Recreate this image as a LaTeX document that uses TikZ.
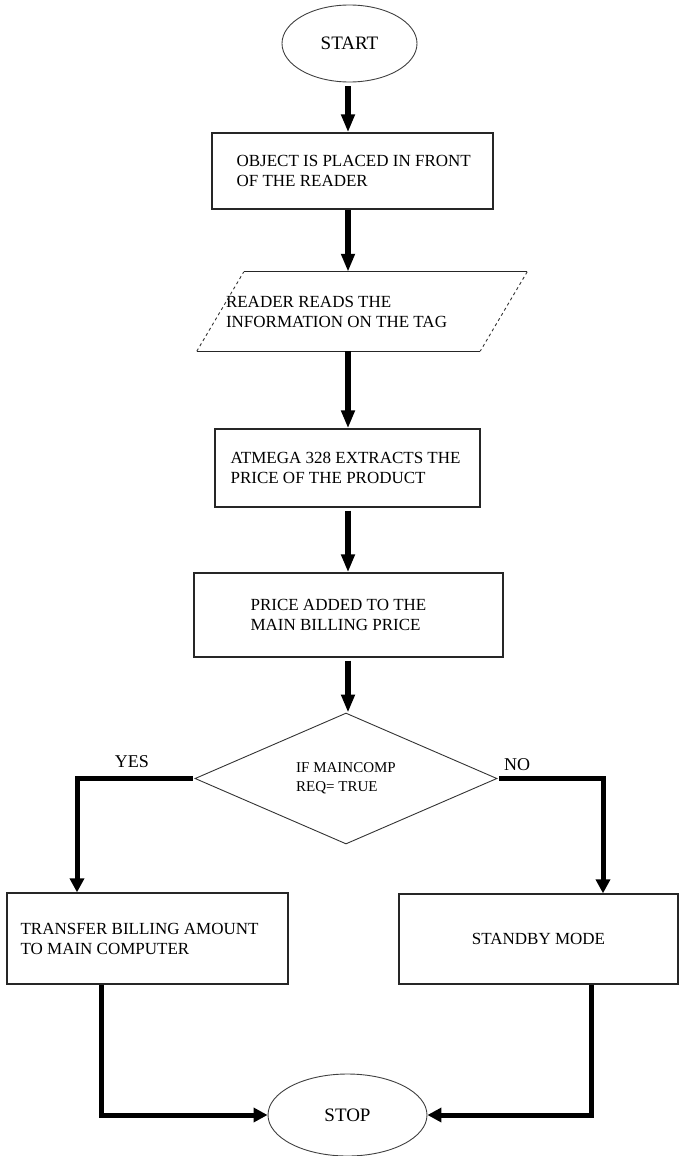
\documentclass[tikz,border=0pt]{standalone}
\usepackage{fontspec}
\setmainfont{Liberation Serif}
\usetikzlibrary{shapes.geometric,arrows.meta,calc}
\begin{document}
\begin{tikzpicture}[x=1pt,y=-1pt,
  txt/.style={font=\fontsize{17}{20}\selectfont,align=left,inner sep=0pt,anchor=west},
  procbox/.style={draw=black!85,line width=1.3pt,inner sep=0pt},
  terminal/.style={ellipse,draw=black!75,line width=0.9pt,inner sep=0pt,
    font=\fontsize{19}{22}\selectfont},
  decision/.style={diamond,draw=black!80,line width=0.9pt,inner sep=0pt,
    align=left,font=\fontsize{15}{19}\selectfont},
  flow/.style={line width=6pt,-{Triangle[width=13pt,length=18pt]}},
  branch/.style={line width=5pt,-{Triangle[width=14pt,length=14pt]}},
  lbl/.style={font=\fontsize{18}{20}\selectfont,inner sep=0pt},
  ioedge/.style={line width=1.3pt,draw=black!85},
  ioside/.style={line width=0.9pt,draw=black!80,dashed}
]
\useasboundingbox (0,0) rectangle (680,1156);
\coordinate (spine) at (348,0);

% terminals
\node[terminal,minimum width=135pt,minimum height=77pt] (start) at (349.5,43.5) {START};
\node[terminal,minimum width=159pt,minimum height=82pt] (stop) at (347.5,1115) {STOP};

% process boxes
\node[procbox,minimum width=281pt,minimum height=76pt] (obj) at (352.5,171) {};
\node[txt] (objt) at ([xshift=25pt]obj.west) {OBJECT IS PLACED IN FRONT\\OF THE READER};

\node[procbox,minimum width=265pt,minimum height=78pt] (atm) at (347.5,468) {};
\node[txt] (atmt) at ([xshift=16pt]atm.west) {ATMEGA 328 EXTRACTS THE\\PRICE OF THE PRODUCT};

\node[procbox,minimum width=309pt,minimum height=84pt] (pr) at (348.5,615) {};
\node[txt] (prt) at ([xshift=57pt]pr.west) {PRICE ADDED TO THE\\MAIN BILLING PRICE};

\node[procbox,minimum width=281pt,minimum height=91pt] (tr) at (147.5,938.5) {};
\node[txt] (trt) at ([xshift=14pt]tr.west) {TRANSFER BILLING AMOUNT\\TO MAIN COMPUTER};

\node[procbox,minimum width=279pt,minimum height=90pt,
  font=\fontsize{17}{20}\selectfont] (sb) at (538.5,939) {STANDBY MODE};

% input/output (parallelogram)
\node[minimum width=330pt,minimum height=79pt,inner sep=0pt] (rd) at (362,311.5) {};
\node[txt] (rdt) at ([xshift=29pt]rd.west) {READER READS THE\\INFORMATION ON THE TAG};
\draw[ioedge] ($(rd.north west)+(47,0)$) -- (rd.north east);
\draw[ioedge] (rd.south west) -- ($(rd.south east)+(-47,0)$);
\draw[ioside] (rd.north east) -- ($(rd.south east)+(-47,0)$);
\draw[ioside] (rd.south west) -- ($(rd.north west)+(47,0)$);

% decision
\node[decision,minimum width=302pt,minimum height=95pt] (dec) at (346,778.5)
  {IF MAINCOMP\\REQ= TRUE};
\node[lbl] (yes) at (132,762) {YES};
\node[lbl] (no) at (517,765) {NO};

% main flow
\draw[flow,shorten <=4pt] (start.south -| spine) -- (obj.north -| spine);
\draw[flow] (obj.south -| spine) -- (rd.north -| spine);
\draw[flow] (rd.south -| spine) -- (atm.north -| spine);
\draw[flow,shorten <=3pt] (atm.south -| spine) -- (pr.north -| spine);
\draw[flow,shorten <=3pt] (pr.south -| spine) -- (dec.north -| spine);

% branches
\draw[branch,shorten <=2pt] (dec.west) -| ([xshift=-70.5pt]tr.north);
\draw[branch,shorten <=2pt] (dec.east) -| ([xshift=64.5pt]sb.north);
\draw[branch] ([xshift=-46.5pt]tr.south) |- (stop.west);
\draw[branch] ([xshift=52.5pt]sb.south) |- (stop.east);
\end{tikzpicture}
\end{document}
